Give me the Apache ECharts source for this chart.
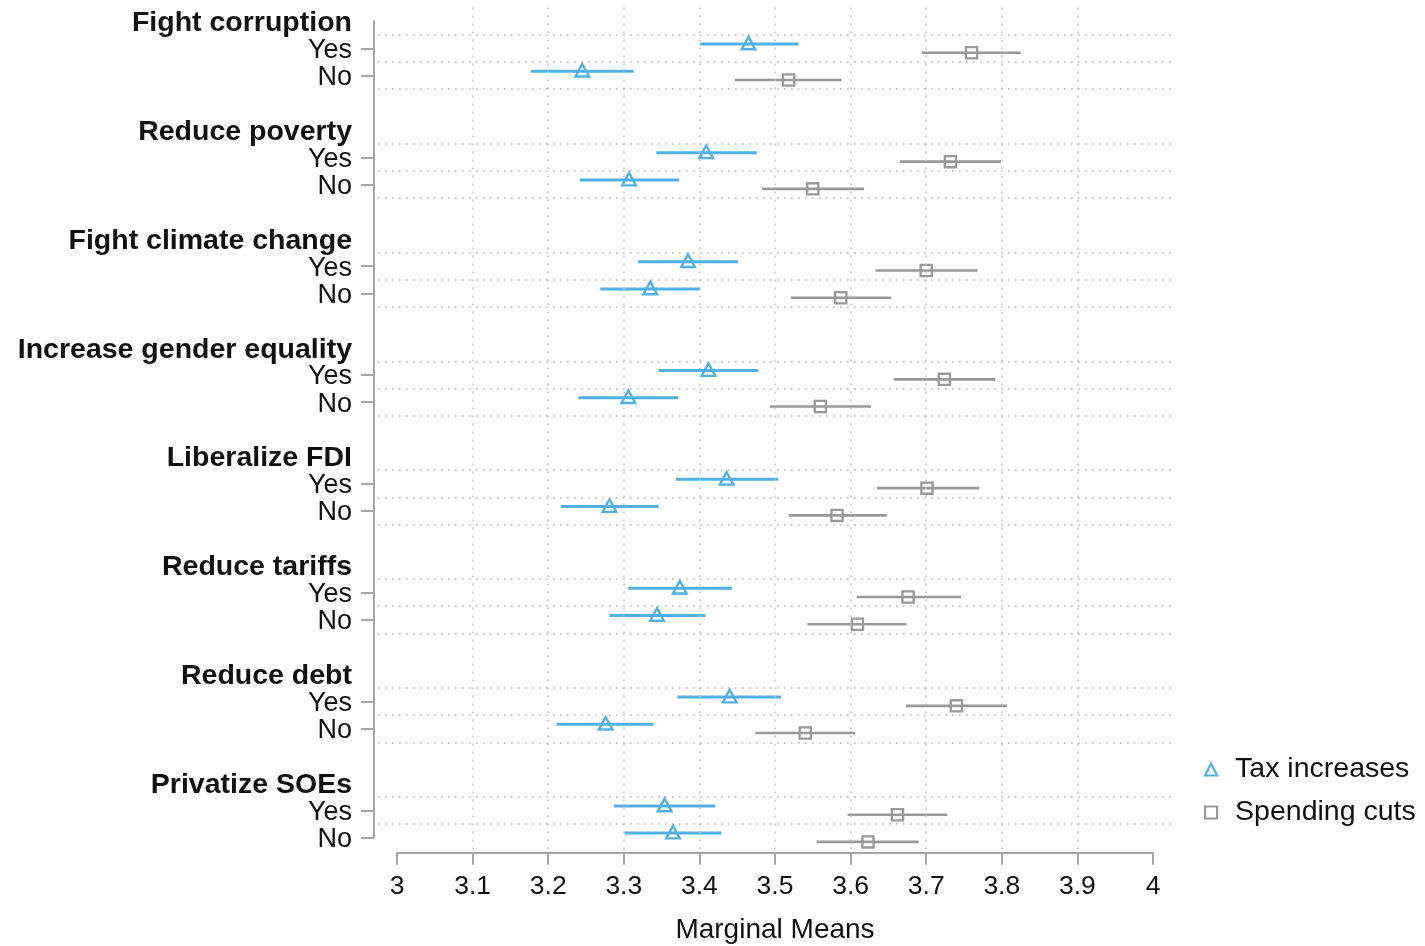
<!DOCTYPE html>
<html><head><meta charset="utf-8">
<script src="https://cdn.jsdelivr.net/npm/echarts@6/dist/echarts.min.js"></script>
<style>html,body{margin:0;padding:0;background:#fff}#chart{width:1425px;height:946px}</style>
</head><body><div id="chart"></div>
<script>
// ---- data ----
const groups = ['Fight corruption','Reduce poverty','Fight climate change','Increase gender equality','Liberalize FDI','Reduce tariffs','Reduce debt','Privatize SOEs'];
const levels = ['Yes','No'];
// order: for each group, Yes then No
const taxEstimate   = [3.465,3.245, 3.409,3.307, 3.385,3.335, 3.412,3.306, 3.436,3.281, 3.374,3.344, 3.440,3.276, 3.354,3.365];
const taxLower      = [3.401,3.177, 3.343,3.242, 3.319,3.269, 3.346,3.240, 3.369,3.217, 3.306,3.281, 3.371,3.211, 3.287,3.301];
const taxUpper      = [3.531,3.313, 3.476,3.373, 3.451,3.401, 3.478,3.372, 3.504,3.346, 3.443,3.408, 3.508,3.339, 3.421,3.429];
const spendEstimate = [3.760,3.518, 3.732,3.550, 3.700,3.587, 3.724,3.560, 3.701,3.582, 3.676,3.609, 3.740,3.540, 3.662,3.623];
const spendLower    = [3.694,3.447, 3.665,3.483, 3.633,3.521, 3.657,3.493, 3.635,3.518, 3.608,3.543, 3.673,3.474, 3.596,3.555];
const spendUpper    = [3.825,3.588, 3.799,3.618, 3.768,3.654, 3.791,3.627, 3.770,3.648, 3.746,3.674, 3.807,3.606, 3.728,3.690];
const xTicks = [3,3.1,3.2,3.3,3.4,3.5,3.6,3.7,3.8,3.9,4];
const seriesNames = ['Tax increases','Spending cuts'];

// ---- layout helpers ----
const BLUE = '#52B0E6', GRAY = '#999999', TXT = '#111111', AXIS = '#a6a6a6';
const FONT = '"Liberation Sans", Arial, Helvetica, sans-serif';
const rowsPerGroup = 4;
const rowLabels = [];
groups.forEach((g, gi) => {
  rowLabels.push(g); levels.forEach(l => rowLabels.push(l));
  if (gi < groups.length - 1) rowLabels.push('');
});
const isLevelRow = i => levels.indexOf(rowLabels[i]) >= 0;
const rowOf = k => Math.floor(k / 2) * rowsPerGroup + 1 + (k % 2);

const taxData = taxEstimate.map((v, k) => [v, taxLower[k], taxUpper[k], rowOf(k)]);
const spendData = spendEstimate.map((v, k) => [v, spendLower[k], spendUpper[k], rowOf(k)]);

function render(offset, kind, color, lw) {
  return function (params, api) {
    const row = api.value(3);
    const c = api.coord([api.value(0), row]);
    const a = api.coord([api.value(1), row]);
    const b = api.coord([api.value(2), row]);
    const y = c[1] + offset;
    const ch = [{ type: 'line', shape: { x1: a[0], y1: y, x2: b[0], y2: y }, style: { stroke: color, lineWidth: lw } }];
    if (kind === 'triangle') {
      ch.push({ type: 'polygon', shape: { points: [[c[0], y - 7.3], [c[0] + 6.8, y + 5.3], [c[0] - 6.8, y + 5.3]] },
        style: { fill: 'none', stroke: color, lineWidth: 2.4 } });
    } else {
      ch.push({ type: 'rect', shape: { x: c[0] - 5.6, y: y - 5.6, width: 11.2, height: 11.2 },
        style: { fill: 'none', stroke: color, lineWidth: 2.3 } });
    }
    return { type: 'group', children: ch };
  };
}

// grid lines
const vLines = xTicks.slice(1, -1).map(v => ({ xAxis: v, lineStyle: { color: '#c4c4c4', width: 1.6, type: [1.6, 6.4] } }));
const hLines = [];
for (let g = 0; g < groups.length; g++) {
  [0.5, 1.5, 2.5].forEach(d => { const r = g * rowsPerGroup + d; if (r < rowLabels.length - 0.6) hLines.push({ yAxis: r, lineStyle: { color: '#b4b4b4', width: 1.6, type: [1.6, 5.4] } }); });
}

const plotLeft = 378, plotRight = 1176, axL = 397, axR = 1153, axisY = 852.7;
const pxPerUnit = (axR - axL) / (xTicks[xTicks.length - 1] - xTicks[0]);
const rowTop = 21.2, rowBottom = 837.5;
const pxPerRow = (rowBottom - rowTop) / (rowLabels.length - 1);

const chart = echarts.init(document.getElementById('chart'));
chart.setOption({
  animation: false,
  backgroundColor: '#fff',
  textStyle: { fontFamily: FONT },
  grid: [
    { left: plotLeft, right: 1425 - plotRight, top: rowTop - 0.5 * pxPerRow, bottom: 946 - axisY, containLabel: false },
    { left: 374, width: 20, top: rowTop, bottom: 946 - rowBottom, containLabel: false },
    { left: axL, right: 1425 - axR, top: 700, bottom: 946 - axisY, containLabel: false }
  ],
  xAxis: [
    { gridIndex: 0, type: 'value', min: xTicks[0] - (axL - plotLeft) / pxPerUnit, max: xTicks[xTicks.length - 1] + (plotRight - axR) / pxPerUnit, show: false },
    { gridIndex: 1, type: 'value', show: false },
    { gridIndex: 2, type: 'value', min: xTicks[0], max: xTicks[xTicks.length - 1], interval: 0.1, position: 'bottom',
      axisLine: { show: true, lineStyle: { color: AXIS, width: 2 } },
      axisTick: { show: true, length: 12, lineStyle: { color: AXIS, width: 2 } },
      splitLine: { show: false },
      axisLabel: { fontSize: 26.5, color: TXT, fontFamily: FONT, margin: 20, formatter: v => String(Math.round(v * 10) / 10) },
      name: 'Marginal Means', nameLocation: 'middle', nameGap: 64,
      nameTextStyle: { fontSize: 28, color: TXT, fontFamily: FONT } }
  ],
  yAxis: [
    { gridIndex: 0, type: 'value', inverse: true, min: -0.5, max: -0.5 + (axisY - (rowTop - 0.5 * pxPerRow)) / pxPerRow, show: false },
    { gridIndex: 1, type: 'category', inverse: true, boundaryGap: false, data: rowLabels, position: 'left',
      axisLine: { show: true, lineStyle: { color: AXIS, width: 2 } },
      axisTick: { show: true, length: 13, interval: (i) => isLevelRow(i), lineStyle: { color: AXIS, width: 2 } },
      splitLine: { show: false },
      axisLabel: { interval: 0, margin: 22,
        formatter: (v, i) => v === '' ? '' : (levels.indexOf(v) >= 0 ? '{n|' + v + '}' : '{h|' + v + '}'),
        rich: { n: { fontSize: 27, color: TXT, fontFamily: FONT, padding: [4, 0, 0, 0] },
                h: { fontSize: 28.5, fontWeight: 'bold', color: TXT, fontFamily: FONT, padding: [4, 0, 0, 0] } } } },
    { gridIndex: 2, type: 'value', show: false }
  ],
  legend: {
    orient: 'vertical', left: 1204, top: 755, padding: 0, itemGap: 14, itemWidth: 12, itemHeight: 12,
    textStyle: { fontSize: 28.5, color: TXT, fontFamily: FONT, padding: [0, 0, 0, 13] },
    data: [
      { name: seriesNames[0], icon: 'triangle', itemStyle: { color: '#fff', borderColor: BLUE, borderWidth: 2.2 } },
      { name: seriesNames[1], icon: 'rect', itemStyle: { color: '#fff', borderColor: GRAY, borderWidth: 2.2 } }
    ]
  },
  series: [
    { name: 'grid', type: 'line', xAxisIndex: 0, yAxisIndex: 0, data: [], silent: true, z: 1,
      markLine: { silent: true, symbol: ['none', 'none'], label: { show: false }, animation: false, data: vLines.concat(hLines) } },
    { name: seriesNames[1], type: 'custom', xAxisIndex: 0, yAxisIndex: 0, z: 3, itemStyle: { color: GRAY },
      renderItem: render(4.4, 'square', GRAY, 2.6), data: spendData, encode: { x: [0, 1, 2], y: 3 } },
    { name: seriesNames[0], type: 'custom', xAxisIndex: 0, yAxisIndex: 0, z: 4, itemStyle: { color: BLUE },
      renderItem: render(-4.4, 'triangle', BLUE, 3), data: taxData, encode: { x: [0, 1, 2], y: 3 } }
  ]
});
</script></body></html>
